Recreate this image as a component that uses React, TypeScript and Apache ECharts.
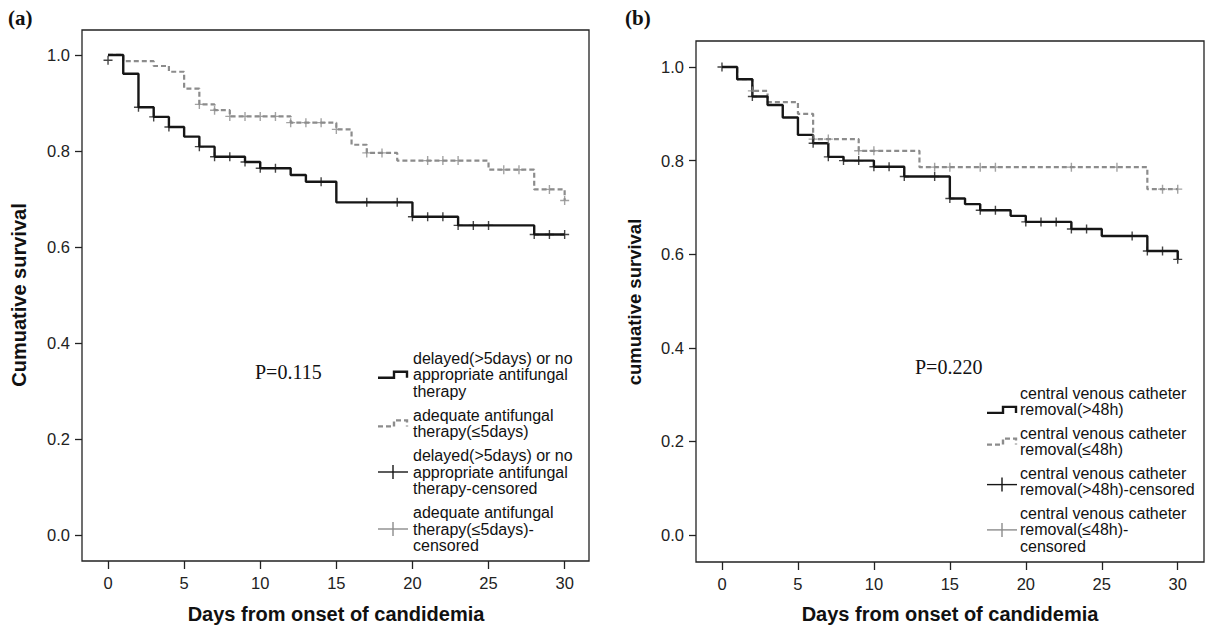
import React, { useEffect, useRef } from "react";
import * as echarts from "echarts";

// ---------- data ----------
const yTicks = [0, 0.2, 0.4, 0.6, 0.8, 1.0];
const xTicks = [0, 5, 10, 15, 20, 25, 30];

// Panel (a): Kaplan-Meier steps [day, survival]
const aDelayed: [number, number][] = [
  [0, 1], [1, 0.961], [2, 0.891], [3, 0.871], [4, 0.85], [5, 0.83], [6, 0.809], [7, 0.788],
  [9, 0.777], [10, 0.764], [12, 0.75], [13, 0.736], [15, 0.693], [20, 0.663], [23, 0.645],
  [28, 0.626], [30, 0.626],
];
const aAdequate: [number, number][] = [
  [0, 1], [1, 0.987], [3, 0.977], [4, 0.965], [5, 0.93], [6, 0.897], [7, 0.885], [8, 0.872],
  [12, 0.859], [15, 0.845], [16, 0.813], [17, 0.796], [19, 0.78], [25, 0.761], [28, 0.72],
  [30, 0.697],
];
const aDelayedCensored: [number, number][] = [
  [0, 0.989], [2, 0.891], [3, 0.871], [4, 0.85], [6, 0.809], [7, 0.788], [8, 0.788], [9, 0.777],
  [10, 0.764], [11, 0.764], [14, 0.736], [17, 0.693], [19, 0.693], [20, 0.663], [21, 0.663],
  [22, 0.663], [23, 0.645], [24, 0.645], [25, 0.645], [28, 0.626], [29, 0.626], [30, 0.626],
];
const aAdequateCensored: [number, number][] = [
  [6, 0.897], [7, 0.885], [8, 0.872], [9, 0.872], [10, 0.872], [11, 0.872], [12, 0.859],
  [13, 0.859], [14, 0.859], [15, 0.845], [17, 0.796], [18, 0.796], [21, 0.78], [22, 0.78],
  [23, 0.78], [26, 0.761], [27, 0.761], [29, 0.72], [30, 0.697],
];

// Panel (b)
const bLate: [number, number][] = [
  [0, 1], [1, 0.974], [2, 0.937], [3, 0.919], [4, 0.892], [5, 0.855], [6, 0.837], [7, 0.808],
  [8, 0.8], [10, 0.787], [12, 0.766], [15, 0.719], [16, 0.707], [17, 0.694], [19, 0.682],
  [20, 0.669], [23, 0.654], [25, 0.639], [28, 0.607], [30, 0.589],
];
const bEarly: [number, number][] = [
  [0, 1], [1, 0.974], [2, 0.949], [3, 0.925], [5, 0.9], [6, 0.846], [9, 0.821], [13, 0.786],
  [28, 0.739], [30, 0.739],
];
const bLateCensored: [number, number][] = [
  [0, 1], [2, 0.937], [6, 0.837], [7, 0.808], [8, 0.8], [9, 0.8], [10, 0.787], [11, 0.787],
  [12, 0.766], [14, 0.766], [15, 0.719], [17, 0.694], [18, 0.694], [20, 0.669], [21, 0.669],
  [22, 0.669], [23, 0.654], [24, 0.654], [27, 0.639], [28, 0.607], [29, 0.607], [30, 0.589],
];
const bEarlyCensored: [number, number][] = [
  [2, 0.949], [6, 0.846], [7, 0.846], [9, 0.821], [10, 0.821], [14, 0.786], [15, 0.786],
  [17, 0.786], [18, 0.786], [23, 0.786], [26, 0.786], [29, 0.739], [30, 0.739],
];

const legendA: string[][] = [
  ["delayed(>5days) or no", "appropriate antifungal", "therapy"],
  ["adequate antifungal", "therapy(≤5days)"],
  ["delayed(>5days) or no", "appropriate antifungal", "therapy-censored"],
  ["adequate antifungal", "therapy(≤5days)-", "censored"],
];
const legendB: string[][] = [
  ["central venous catheter", "removal(>48h)"],
  ["central venous catheter", "removal(≤48h)"],
  ["central venous catheter", "removal(>48h)-censored"],
  ["central venous catheter", "removal(≤48h)-", "censored"],
];

const pA = "P=0.115";
const pB = "P=0.220";
const xTitle = "Days from onset of candidemia";
const yTitleA = "Cumuative survival";
const yTitleB = "cumuative survival";

// ---------- styles ----------
const BLACK = "#161616";
const GRAY = "#8c8c8c";
const SANS = "'Liberation Sans', Arial, Helvetica, sans-serif";
const SERIF = "'Liberation Serif', 'Times New Roman', serif";
const CROSS = "path://M5,0L5,10M0,5L10,5";

function buildLegend(
  groups: string[][],
  iconX: number,
  textX: number,
  startY: number,
  lineH: number,
  gap: number
) {
  const els: any[] = [];
  let y = startY;
  groups.forEach((lines, gi) => {
    const ys: number[] = lines.map((_, i) => y + i * lineH);
    lines.forEach((t, i) => {
      els.push({
        type: "text",
        x: textX,
        y: ys[i],
        style: { text: t, font: `16px ${SANS}`, fill: "#111", textVerticalAlign: "middle" },
      });
    });
    const isStep = gi < 2;
    const color = gi % 2 === 0 ? BLACK : GRAY;
    if (isStep) {
      const cy = gi === 0 ? ys[1] : (ys[0] + ys[1]) / 2;
      els.push({
        type: "polyline",
        shape: {
          points: [
            [iconX, cy + 3],
            [iconX + 16, cy + 3],
            [iconX + 16, cy - 3],
            [iconX + 29, cy - 3],
            [iconX + 29, cy + 3],
          ],
        },
        style: {
          stroke: color,
          lineWidth: 2.4,
          fill: null,
          lineDash: gi === 1 ? [5, 3] : null,
        },
      });
    } else {
      const cy = lines.length === 3 ? ys[1] : (ys[0] + ys[1]) / 2 + 3;
      els.push({
        type: "line",
        shape: { x1: iconX, y1: cy, x2: iconX + 30, y2: cy },
        style: { stroke: color, lineWidth: 1.4 },
      });
      els.push({
        type: "line",
        shape: { x1: iconX + 15, y1: cy - 7, x2: iconX + 15, y2: cy + 7 },
        style: { stroke: color, lineWidth: 1.4 },
      });
    }
    y += lines.length * lineH + gap;
  });
  return els;
}

function makeAxes(gridIndex: number, xmin: number, xmax: number, ymin: number, ymax: number) {
  const axisLabelStyle = { color: "#222", fontSize: 16.5, fontFamily: SANS };
  return {
    x: {
      type: "value",
      gridIndex,
      min: xmin,
      max: xmax,
      axisLine: { show: false, onZero: false },
      splitLine: { show: false },
      axisTick: { show: true, inside: false, length: 8, customValues: xTicks, lineStyle: { color: "#222", width: 1.3 } },
      axisLabel: { ...axisLabelStyle, margin: 13, customValues: xTicks, formatter: (v: number) => String(v) },
    },
    y: {
      type: "value",
      gridIndex,
      min: ymin,
      max: ymax,
      axisLine: { show: false, onZero: false },
      splitLine: { show: false },
      axisTick: { show: true, inside: false, length: 7, customValues: yTicks, lineStyle: { color: "#222", width: 1.3 } },
      axisLabel: { ...axisLabelStyle, margin: 12, customValues: yTicks, formatter: (v: number) => v.toFixed(1) },
    },
  };
}

function stepSeries(data: [number, number][], idx: number, color: string, dashed: boolean) {
  return {
    type: "line",
    xAxisIndex: idx,
    yAxisIndex: idx,
    data,
    step: "end",
    symbol: "none",
    lineStyle: { color, width: dashed ? 2.2 : 2.4, type: dashed ? [5, 3] : "solid" },
    z: dashed ? 2 : 3,
  };
}

function censorSeries(data: [number, number][], idx: number, color: string) {
  return {
    type: "scatter",
    xAxisIndex: idx,
    yAxisIndex: idx,
    data,
    symbol: CROSS,
    symbolSize: [9, 9],
    itemStyle: { color: "transparent", borderColor: color, borderWidth: 1.4 },
    z: 4,
  };
}

export default function App() {
  const ref = useRef<HTMLDivElement>(null);
  useEffect(() => {
    if (!ref.current) return;
    const chart = echarts.init(ref.current, null, { renderer: "svg" });
    const A = makeAxes(0, -1.71, 31.6, -0.054, 1.052);
    const B = makeAxes(1, -1.71, 31.73, -0.0577, 1.0556);

    const graphic: any[] = [
      { type: "text", x: 8, y: 18, style: { text: "(a)", font: `bold 21px ${SERIF}`, fill: "#111", textVerticalAlign: "middle" } },
      { type: "text", x: 625, y: 18, style: { text: "(b)", font: `bold 21px ${SERIF}`, fill: "#111", textVerticalAlign: "middle" } },
      { type: "text", x: 255, y: 372, style: { text: pA, font: `20px ${SERIF}`, fill: "#111", textVerticalAlign: "middle" } },
      { type: "text", x: 915, y: 367, style: { text: pB, font: `20px ${SERIF}`, fill: "#111", textVerticalAlign: "middle" } },
      { type: "text", x: 336, y: 614, style: { text: xTitle, font: `bold 20px ${SANS}`, fill: "#111", textAlign: "center", textVerticalAlign: "middle" } },
      { type: "text", x: 950, y: 614, style: { text: xTitle, font: `bold 20px ${SANS}`, fill: "#111", textAlign: "center", textVerticalAlign: "middle" } },
      { type: "text", x: 19, y: 295, rotation: Math.PI / 2, style: { text: yTitleA, font: `bold 20px ${SANS}`, fill: "#111", textAlign: "center", textVerticalAlign: "middle" } },
      { type: "text", x: 634, y: 302, rotation: Math.PI / 2, style: { text: yTitleB, font: `bold 18.5px ${SANS}`, fill: "#111", textAlign: "center", textVerticalAlign: "middle" } },
      ...buildLegend(legendA, 378, 413, 358, 16.8, 6.6),
      ...buildLegend(legendB, 987, 1020, 393.3, 16.6, 6.8),
    ];

    chart.setOption({
      animation: false,
      backgroundColor: "#fff",
      grid: [
        { left: 82, top: 30, width: 507, height: 531, show: true, borderColor: "#222", borderWidth: 1.3, backgroundColor: "transparent" },
        { left: 696, top: 41, width: 508, height: 521, show: true, borderColor: "#222", borderWidth: 1.3, backgroundColor: "transparent" },
      ],
      xAxis: [A.x, B.x],
      yAxis: [A.y, B.y],
      series: [
        stepSeries(aAdequate, 0, GRAY, true),
        stepSeries(aDelayed, 0, BLACK, false),
        censorSeries(aAdequateCensored, 0, GRAY),
        censorSeries(aDelayedCensored, 0, BLACK),
        stepSeries(bEarly, 1, GRAY, true),
        stepSeries(bLate, 1, BLACK, false),
        censorSeries(bEarlyCensored, 1, GRAY),
        censorSeries(bLateCensored, 1, BLACK),
      ],
      graphic,
    });
    return () => chart.dispose();
  }, []);
  return (
    <div
      ref={ref}
      style={{ position: "absolute", left: 0, top: 0, width: 1209, height: 633 }}
    />
  );
}
